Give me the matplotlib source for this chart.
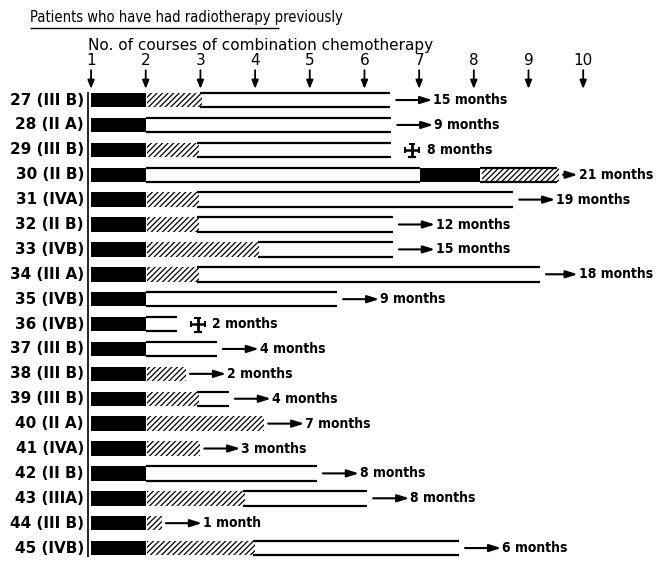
import matplotlib
matplotlib.use("Agg")
import matplotlib.pyplot as plt

# patient labels (number and stage)
patients = ["27 (III B)", "28 (II A)", "29 (III B)", "30 (II B)", "31 (IVA)",
            "32 (II B)", "33 (IVB)", "34 (III A)", "35 (IVB)", "36 (IVB)",
            "37 (III B)", "38 (III B)", "39 (III B)", "40 (II A)", "41 (IVA)",
            "42 (II B)", "43 (IIIA)", "44 (III B)", "45 (IVB)"]

# course positions where each segment ends (start of all bars = course 1)
black_end = [2.0, 2.0, 2.0, 2.0, 2.0, 2.0, 2.0, 2.0, 2.0, 2.0,
             2.0, 2.0, 2.0, 2.0, 2.0, 2.0, 2.0, 2.0, 2.0]
hatch_end = [3.0, 2.0, 2.94, 2.0, 2.94, 2.94, 4.05, 2.94, 2.0, 2.0,
             2.0, 2.7, 2.94, 4.13, 2.96, 2.0, 3.78, 2.26, 3.96]
white_end = [6.47, 6.49, 6.49, 7.02, 8.72, 6.52, 6.52, 9.21, 5.50, 2.57,
             3.30, 2.70, 3.52, 4.13, 2.96, 5.13, 6.05, 2.26, 7.73]

# patient 30 had a second black + hatched run after the white part
second_row = 3
second_black_end = 8.12
second_hatch_end = 9.52

months = [15, 9, 8, 21, 19, 12, 15, 18, 9, 2, 4, 2, 4, 7, 3, 8, 8, 1, 6]
died = [False, False, True, False, False, False, False, False, False, True,
        False, False, False, False, False, False, False, False, False]

course_ticks = [1, 2, 3, 4, 5, 6, 7, 8, 9, 10]

plt.rcParams["hatch.linewidth"] = 0.9
font = "DejaVu Sans"

fig = plt.figure(figsize=(6.57, 5.63), dpi=100)
ax = fig.add_axes([0, 0, 1, 1])
ax.set_xlim(-0.665, 11.35)
ax.set_ylim(18.6, -4.02)
ax.axis("off")

h = 0.58
for i in range(len(patients)):
    y = i
    # black part
    ax.barh(y, black_end[i] - 1, left=1, height=h, color="black", linewidth=0)
    # hatched part
    if hatch_end[i] > black_end[i]:
        ax.barh(y, hatch_end[i] - black_end[i], left=black_end[i] + 0.03, height=h,
                facecolor="white", edgecolor="black", hatch="//////", linewidth=0)
    # white part, only top and bottom lines
    if white_end[i] > hatch_end[i]:
        ax.hlines([y - h / 2, y + h / 2], hatch_end[i], white_end[i],
                  colors="black", linewidth=1.6)
    end = white_end[i]
    if i == second_row:
        ax.barh(y, second_black_end - white_end[i], left=white_end[i], height=h,
                color="black", linewidth=0)
        ax.barh(y, second_hatch_end - second_black_end, left=second_black_end + 0.03,
                height=h, facecolor="white", edgecolor="black", hatch="//////",
                linewidth=0)
        ax.hlines([y - h / 2, y + h / 2], second_black_end, second_hatch_end,
                  colors="black", linewidth=1.6)
        end = second_hatch_end

    if months[i] == 1:
        label = "1 month"
    else:
        label = str(months[i]) + " months"

    if died[i]:
        cx = end + 0.38
        ax.hlines(y, cx - 0.13, cx + 0.13, colors="black", linewidth=1.8)
        ax.vlines([cx - 0.13, cx + 0.13], y - 0.12, y + 0.12, colors="black", linewidth=1.5)
        ax.vlines(cx, y - 0.24, y + 0.3, colors="black", linewidth=2.0)
        ax.hlines(y - 0.24, cx - 0.06, cx + 0.06, colors="black", linewidth=1.4)
        ax.hlines(y + 0.3, cx - 0.07, cx + 0.07, colors="black", linewidth=1.6)
        ax.text(cx + 0.27, y, label, ha="left", va="center", fontsize=10,
                fontweight="bold", family=font, fontstretch="condensed")
    else:
        x0 = end + 0.11
        x1 = min(x0 + 0.66, 9.9)
        ax.annotate("", xy=(x1, y), xytext=(x0, y),
                    arrowprops=dict(arrowstyle="-|>,head_length=0.7,head_width=0.22",
                                    color="black", lw=1.5, shrinkA=0, shrinkB=0))
        ax.text(x1 + 0.02, y, label, ha="left", va="center", fontsize=10,
                fontweight="bold", family=font, fontstretch="condensed")

    ax.text(0.87, y, patients[i], ha="right", va="center", fontsize=11,
            fontweight="bold", family=font)

# left axis line
ax.vlines(0.945, -0.32, 18.36, colors="black", linewidth=1.2)

# course numbers with downward arrows
for c in course_ticks:
    ax.text(c, -1.57, str(c), ha="center", va="center", fontsize=11,
            family=font)
    ax.annotate("", xy=(c, -0.45), xytext=(c, -1.2),
                arrowprops=dict(arrowstyle="-|>,head_length=0.5,head_width=0.2",
                                color="black", lw=1.3, shrinkA=0, shrinkB=0))

ax.text(0.945, -2.2, "No. of courses of combination chemotherapy", ha="left",
        va="center", fontsize=11, family=font)
ax.text(-0.116, -3.3, "Patients who have had radiotherapy previously", ha="left",
        va="center", fontsize=10.5, family=font, fontstretch="condensed")
ax.hlines(-2.9, -0.116, 4.43, colors="black", linewidth=1.0)

fig.savefig("out.png", dpi=100)
